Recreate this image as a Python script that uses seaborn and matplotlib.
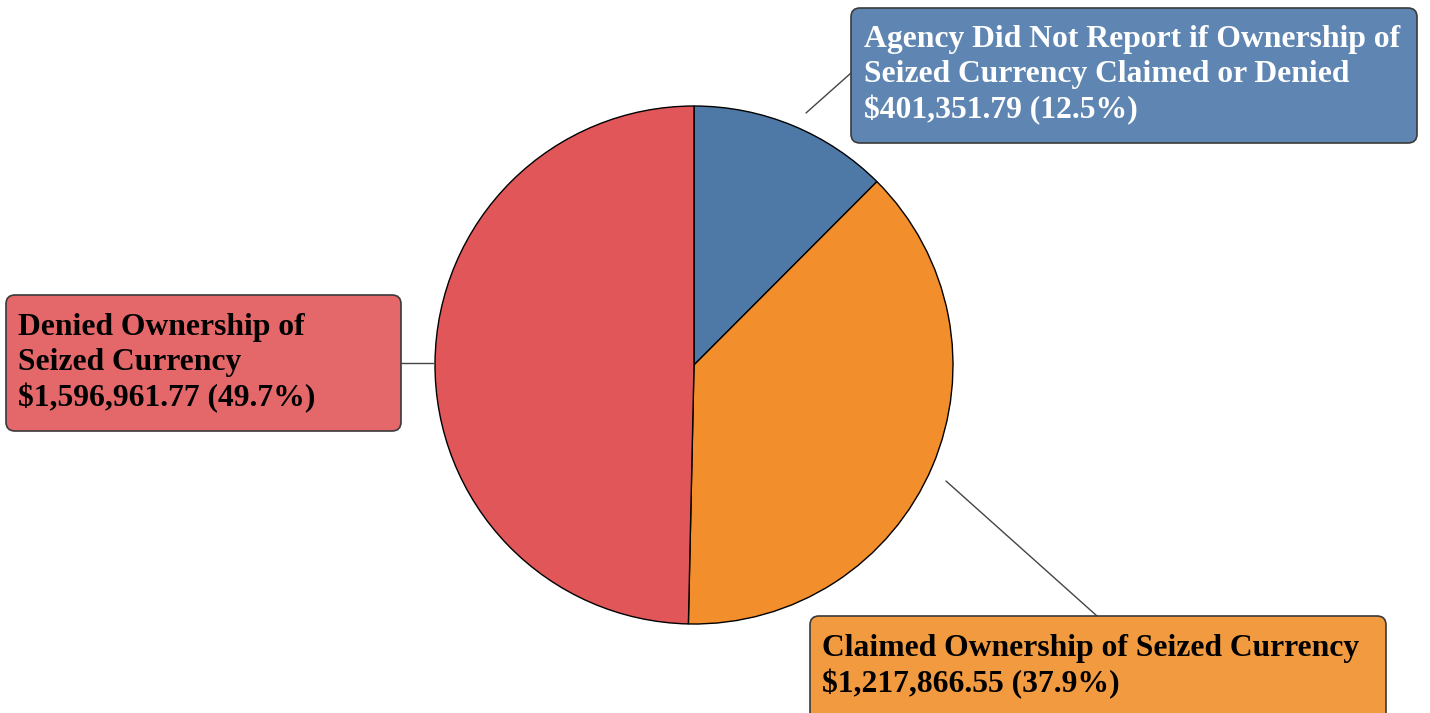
"""
Seized currency ownership pie: claimed vs denied vs not reported.
"""

import matplotlib
matplotlib.use('Agg')
import matplotlib.pyplot as plt
from matplotlib.patches import FancyBboxPatch
import seaborn as sns


# ── Data ───────────────────────────────────────────────────────────────────────

categories = [
    'Agency Did Not Report if Ownership of\nSeized Currency Claimed or Denied',
    'Claimed Ownership of Seized Currency',
    'Denied Ownership of\nSeized Currency',
]
amounts  = [401351.79, 1217866.55, 1596961.77]
percents = [12.5, 37.9, 49.7]

slice_colors = ['#4E79A7', '#F28E2B', '#E15759']
box_colors   = ['#5F86B2', '#F29A40', '#E4686A']
text_colors  = ['white', 'black', 'black']


# ── Figure ─────────────────────────────────────────────────────────────────────

sns.set_style('white')
plt.rcParams['font.family'] = ['Liberation Serif', 'DejaVu Serif']

W, H = 1430, 713
fig = plt.figure(figsize=(W / 100, H / 100), dpi=100)
ax = fig.add_axes([0, 0, 1, 1])


def fy(y):
    """Pixel row (top-down) to data y (bottom-up)."""
    return H - y


ax.pie(
    amounts, colors=slice_colors, startangle=90, counterclock=False,
    center=(694, fy(365)), radius=259, frame=True,
    wedgeprops=dict(edgecolor='black', linewidth=1.0),
)
ax.set_xlim(0, W)
ax.set_ylim(0, H)
ax.set_aspect('equal')
ax.axis('off')

# label boxes: (x0, top, width, height), text anchor, leader line
boxes = [
    ((851, 8, 566, 135), (864, 25), [(806, 113), (851, 73)]),
    ((810, 616, 576, 110), (822, 634), [(946, 481), (1097, 616)]),
    ((6, 295, 395, 136), (18, 313), [(401, 363), (433, 363)]),
]

for (box, txt_xy, line), cat, amt, pct, fc, tc in zip(
    boxes, categories, amounts, percents, box_colors, text_colors
):
    x0, top, bw, bh = box
    ax.add_patch(FancyBboxPatch(
        (x0, fy(top + bh)), bw, bh, boxstyle='round,pad=0,rounding_size=9',
        facecolor=fc, edgecolor='#3a3a3a', linewidth=1.2, zorder=3,
    ))
    (lx0, ly0), (lx1, ly1) = line
    ax.plot([lx0, lx1], [fy(ly0), fy(ly1)], color='#444444', linewidth=1.0, zorder=2)
    label = f'{cat}\n${amt:,.2f} ({pct:.1f}%)'
    ax.text(txt_xy[0], fy(txt_xy[1]), label, color=tc, fontsize=22.8,
            fontweight='bold', va='top', ha='left', linespacing=1.27, zorder=4)

fig.savefig('out.png', dpi=100)
